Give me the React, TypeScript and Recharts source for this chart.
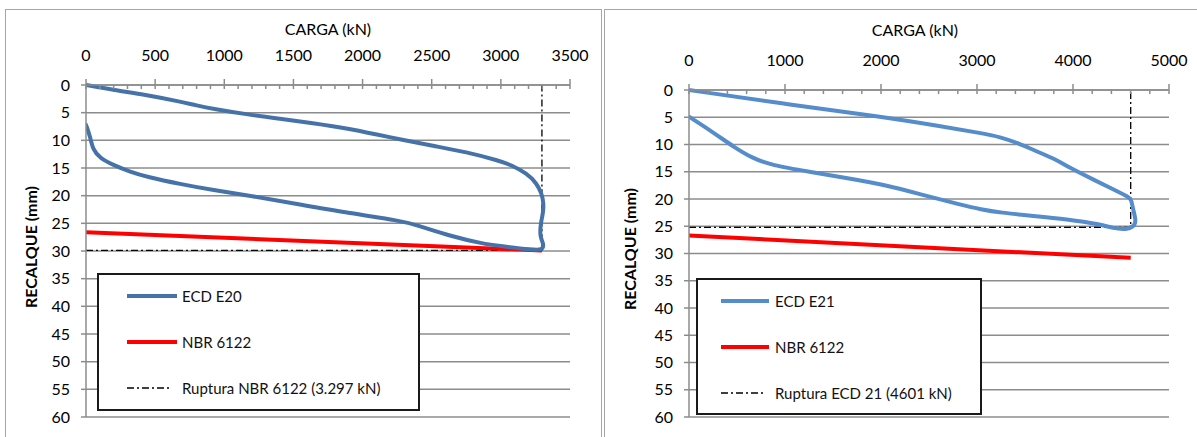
import { LineChart, Line, XAxis, YAxis, CartesianGrid } from 'recharts'

// settlement (mm) axis, shared by both panels
const settlementTicks = [0, 5, 10, 15, 20, 25, 30, 35, 40, 45, 50, 55, 60]

// ECD E20 panel
const e20LoadTicks = [0, 500, 1000, 1500, 2000, 2500, 3000, 3500]
const e20MinorTicks = [
  0, 100, 200, 300, 400, 500, 600, 700, 800, 900, 1000, 1100, 1200, 1300, 1400, 1500, 1600, 1700,
  1800, 1900, 2000, 2100, 2200, 2300, 2400, 2500, 2600, 2700, 2800, 2900, 3000, 3100, 3200, 3300,
  3400, 3500,
]
const e20Load = [
  0, 200, 440, 680, 800, 920, 1160, 1400, 1640, 1880, 2130, 2270, 2510, 2750, 2990, 3070, 3190,
  3260, 3295, 3310, 3305, 3288, 3283, 3295, 3310, 3300, 3234, 2994, 2873, 2632, 2391, 2270, 1909,
  1547, 1186, 920, 680, 440, 320, 200, 100, 50, 30, 0,
]
const e20Settlement = [
  0, 0.9, 1.8, 3.0, 3.7, 4.3, 5.3, 6.1, 6.9, 7.8, 9.1, 9.8, 11.0, 12.1, 13.7, 14.4, 16.0, 17.8,
  19.6, 21.4, 23.2, 25.0, 27.1, 28.0, 28.9, 29.8, 29.8, 29.1, 28.7, 27.3, 25.3, 24.5, 23.2, 21.6,
  20.0, 19.0, 17.9, 16.6, 15.7, 14.5, 13.2, 11.7, 9.3, 7.2,
]
const e20NbrLoad = [0, 3297]
const e20NbrSettlement = [26.6, 29.9]
const e20RuptureLoad = [0, 3297, 3297]
const e20RuptureSettlement = [29.9, 29.9, 0]

// ECD E21 panel
const e21LoadTicks = [0, 1000, 2000, 3000, 4000, 5000]
const e21MinorTicks = [
  0, 200, 400, 600, 800, 1000, 1200, 1400, 1600, 1800, 2000, 2200, 2400, 2600, 2800, 3000, 3200,
  3400, 3600, 3800, 4000, 4200, 4400, 4600, 4800, 5000,
]
const e21Load = [
  0, 1017, 2008, 2643, 3040, 3240, 3436, 3586, 3833, 3934, 4230, 4428, 4595, 4605, 4628, 4660,
  4628, 4560, 4420, 4281, 3934, 3587, 3240, 3040, 2842, 2445, 2048, 1651, 1254, 858, 659, 462,
  262, 0,
]
const e21Settlement = [
  0, 2.6, 4.9, 6.7, 7.9, 8.6, 9.8, 11.0, 12.8, 14.0, 16.6, 18.3, 19.8, 20.1, 22.0, 24.2, 25.1,
  25.6, 25.4, 24.6, 23.7, 23.1, 22.5, 21.9, 21.1, 19.3, 17.4, 16.2, 15.0, 13.8, 12.5, 10.4, 7.9,
  4.9,
]
const e21NbrLoad = [0, 4601]
const e21NbrSettlement = [26.7, 30.8]
const e21RuptureLoad = [0, 4601, 4601]
const e21RuptureSettlement = [25.2, 25.2, 0]

type Pt = { x: number; y: number }
const zip = (xs: number[], ys: number[]): Pt[] => xs.map((x, i) => ({ x, y: ys[i] }))

const FONT = 'Lato, "Open Sans", sans-serif'
const GRID = '#8c8c8c'
const RED = '#ff0000'
const DASH_DOT = '7 3 2 3'

interface PanelProps {
  left: number
  width: number
  marginTop: number
  yAxisWidth: number
  marginRight: number
  loadMax: number
  loadTicks: number[]
  minorTicks: number[]
  curve: Pt[]
  nbr: Pt[]
  rupture: Pt[]
  color: string
}

function Panel(p: PanelProps) {
  const tick = { fill: '#000', fontSize: 16, fontFamily: FONT }
  return (
    <div style={{ position: 'absolute', left: p.left, top: 0 }}>
      <LineChart
        width={p.width}
        height={437}
        margin={{ top: p.marginTop, right: p.marginRight, bottom: 20, left: 0 }}
      >
        <CartesianGrid vertical={false} stroke={GRID} strokeWidth={1.5} />
        <XAxis
          xAxisId="main"
          type="number"
          dataKey="x"
          orientation="top"
          domain={[0, p.loadMax]}
          ticks={p.loadTicks}
          height={30}
          tickSize={6}
          tickMargin={18}
          tick={tick}
          stroke={GRID}
          strokeWidth={1.5}
          allowDataOverflow
        />
        <XAxis
          xAxisId="minor"
          type="number"
          dataKey="x"
          orientation="top"
          mirror
          domain={[0, p.loadMax]}
          ticks={p.minorTicks}
          tickSize={4}
          tickFormatter={() => ''}
          axisLine={false}
          stroke={GRID}
          strokeWidth={1.5}
          allowDataOverflow
        />
        <YAxis
          type="number"
          dataKey="y"
          reversed
          domain={[0, 60]}
          ticks={settlementTicks}
          width={p.yAxisWidth}
          tickSize={5}
          tickMargin={11}
          tick={tick}
          stroke={GRID}
          strokeWidth={1.5}
          interval={0}
        />
        <Line
          xAxisId="minor"
          data={p.nbr}
          dataKey="y"
          stroke="none"
          dot={false}
          activeDot={false}
          isAnimationActive={false}
        />
        <Line
          xAxisId="main"
          data={p.rupture}
          dataKey="y"
          type="linear"
          stroke="#000"
          strokeWidth={1.3}
          strokeDasharray={DASH_DOT}
          dot={false}
          activeDot={false}
          isAnimationActive={false}
        />
        <Line
          xAxisId="main"
          data={p.nbr}
          dataKey="y"
          type="linear"
          stroke={RED}
          strokeWidth={4}
          dot={false}
          activeDot={false}
          isAnimationActive={false}
        />
        <Line
          xAxisId="main"
          data={p.curve}
          dataKey="y"
          type="basis"
          stroke={p.color}
          strokeWidth={4}
          strokeLinejoin="round"
          strokeLinecap="round"
          dot={false}
          activeDot={false}
          isAnimationActive={false}
        />
      </LineChart>
    </div>
  )
}

interface LegendProps {
  left: number
  top: number
  width: number
  height: number
  lineX1: number
  lineX2: number
  textX: number
  color: string
  labels: string[]
}

function LegendBox(l: LegendProps) {
  const rows = [23, 69, 115]
  return (
    <div
      style={{
        position: 'absolute',
        left: l.left,
        top: l.top,
        width: l.width,
        height: l.height,
        boxSizing: 'border-box',
        border: '2px solid #1a1a1a',
        background: '#fff',
      }}
    >
      <svg width={l.width} height={l.height} style={{ position: 'absolute', left: -2, top: -2 }}>
        <line x1={l.lineX1} x2={l.lineX2} y1={rows[0]} y2={rows[0]} stroke={l.color} strokeWidth={4} />
        <line x1={l.lineX1} x2={l.lineX2} y1={rows[1]} y2={rows[1]} stroke={RED} strokeWidth={4} />
        <line
          x1={l.lineX1}
          x2={l.lineX2 - 6}
          y1={rows[2]}
          y2={rows[2]}
          stroke="#000"
          strokeWidth={1.3}
          strokeDasharray={DASH_DOT}
        />
      </svg>
      {l.labels.map((txt, i) => (
        <div
          key={txt}
          style={{
            position: 'absolute',
            left: l.textX - 2,
            top: rows[i] - 2 - 10,
            lineHeight: '20px',
            fontSize: 15,
            fontFamily: FONT,
            color: '#111',
            whiteSpace: 'nowrap',
          }}
        >
          {txt}
        </div>
      ))}
    </div>
  )
}

function Title({ x, y, text }: { x: number; y: number; text: string }) {
  return (
    <div
      style={{
        position: 'absolute',
        left: x - 100,
        top: y - 10,
        width: 200,
        lineHeight: '20px',
        textAlign: 'center',
        fontSize: 16,
        fontFamily: FONT,
        color: '#000',
      }}
    >
      {text}
    </div>
  )
}

function YTitle({ x, y }: { x: number; y: number }) {
  return (
    <div
      style={{
        position: 'absolute',
        left: x - 100,
        top: y - 10,
        width: 200,
        lineHeight: '20px',
        textAlign: 'center',
        fontSize: 16,
        fontWeight: 'bold',
        fontFamily: FONT,
        color: '#000',
        transform: 'rotate(-90deg)',
      }}
    >
      RECALQUE (mm)
    </div>
  )
}

export default function App() {
  const e20 = zip(e20Load, e20Settlement)
  const e20Nbr = zip(e20NbrLoad, e20NbrSettlement)
  const e20Rup = zip(e20RuptureLoad, e20RuptureSettlement)
  const e21 = zip(e21Load, e21Settlement)
  const e21Nbr = zip(e21NbrLoad, e21NbrSettlement)
  const e21Rup = zip(e21RuptureLoad, e21RuptureSettlement)

  return (
    <div
      style={{
        position: 'absolute',
        left: 0,
        top: 0,
        width: 1197,
        height: 437,
        overflow: 'hidden',
        background: '#fff',
      }}
    >
      {/* chart frames */}
      <div style={{ position: 'absolute', left: 5, top: 9, width: 595, height: 460, border: '1px solid #a6a6a6' }} />
      <div style={{ position: 'absolute', left: 604, top: 9, width: 620, height: 460, border: '1px solid #a6a6a6' }} />

      <Panel
        left={0}
        width={600}
        marginTop={55}
        yAxisWidth={86}
        marginRight={30}
        loadMax={3500}
        loadTicks={e20LoadTicks}
        minorTicks={e20MinorTicks}
        curve={e20}
        nbr={e20Nbr}
        rupture={e20Rup}
        color="#4672aa"
      />
      <Panel
        left={600}
        width={597}
        marginTop={60}
        yAxisWidth={89}
        marginRight={28}
        loadMax={5000}
        loadTicks={e21LoadTicks}
        minorTicks={e21MinorTicks}
        curve={e21}
        nbr={e21Nbr}
        rupture={e21Rup}
        color="#558ccc"
      />

      <Title x={328} y={29} text="CARGA (kN)" />
      <Title x={915} y={30} text="CARGA (kN)" />
      <YTitle x={31} y={247} />
      <YTitle x={630} y={249} />

      <LegendBox
        left={97}
        top={273}
        width={323}
        height={138}
        lineX1={30}
        lineX2={80}
        textX={85}
        color="#4672aa"
        labels={['ECD E20', 'NBR 6122', 'Ruptura NBR 6122 (3.297 kN)']}
      />
      <LegendBox
        left={696}
        top={278}
        width={286}
        height={137}
        lineX1={25}
        lineX2={73}
        textX={79}
        color="#558ccc"
        labels={['ECD E21', 'NBR 6122', 'Ruptura ECD 21 (4601 kN)']}
      />
    </div>
  )
}
